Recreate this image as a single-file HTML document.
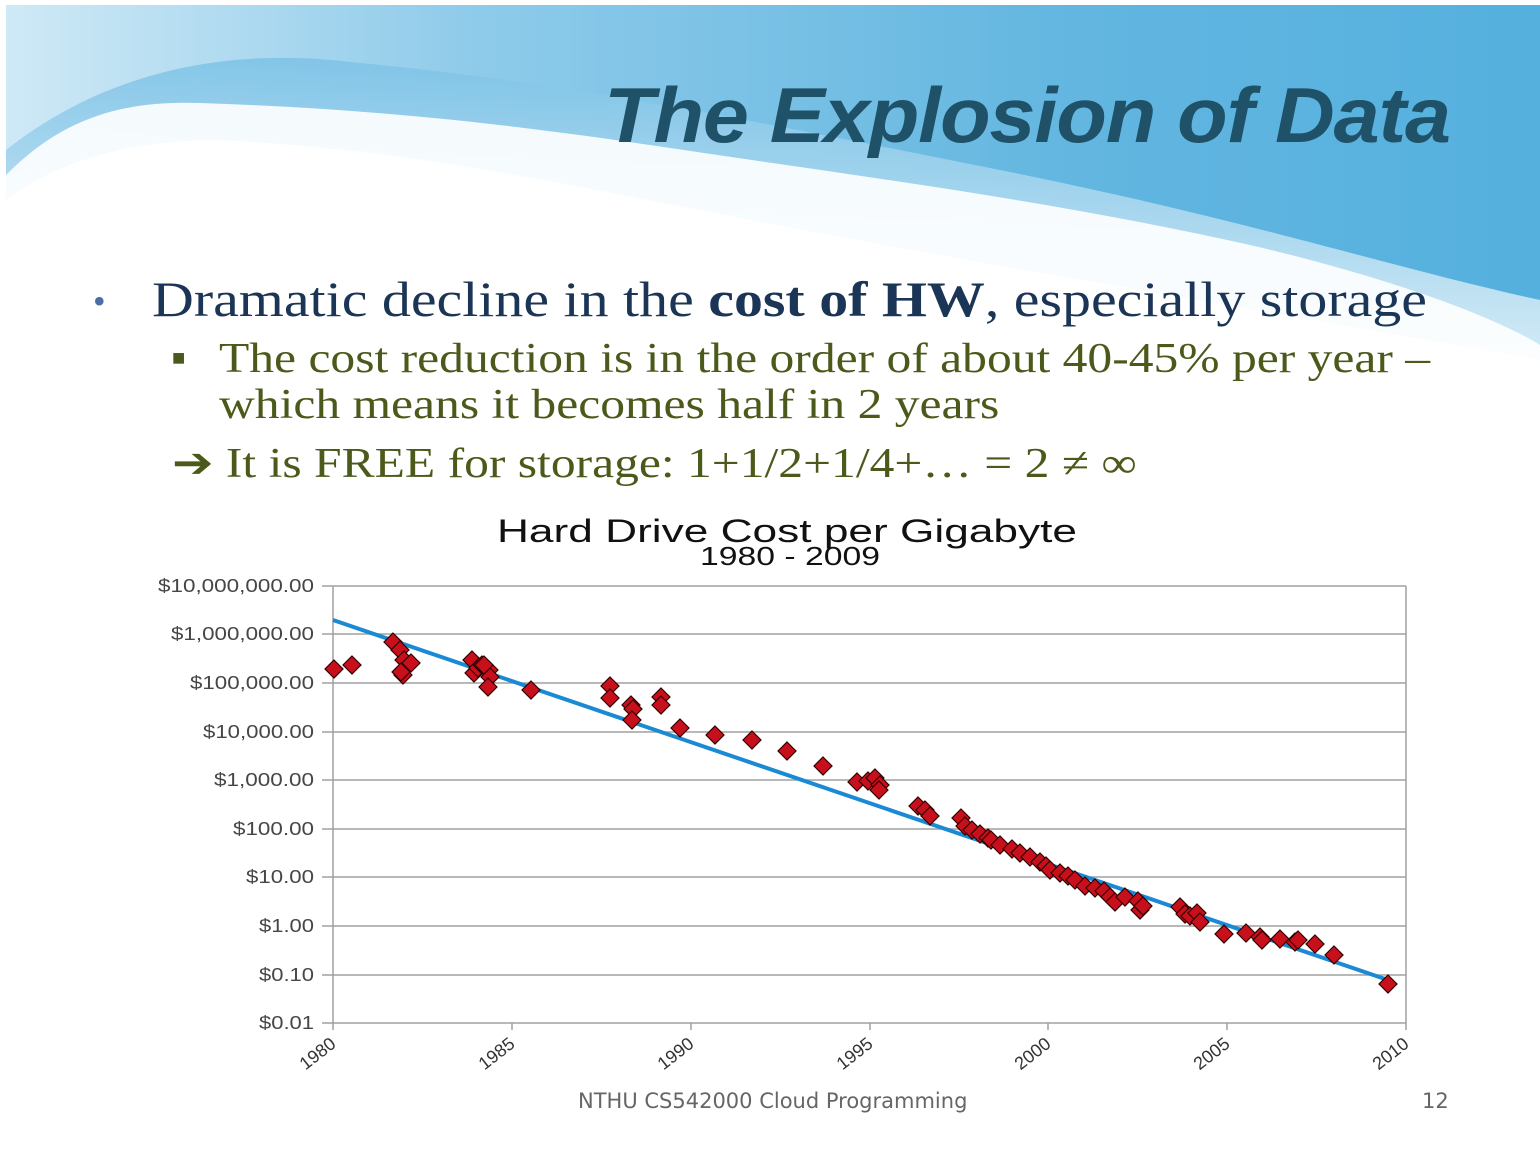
<!DOCTYPE html>
<html><head><meta charset="utf-8"><style>
body{margin:0;width:1540px;height:1155px;background:#fff;position:relative;overflow:hidden;font-family:"Liberation Serif",serif}
.t{position:absolute;white-space:nowrap;transform-origin:0 0}
</style></head><body>
<svg width="1540" height="1155" style="position:absolute;left:0;top:0">
<defs>
<linearGradient id="bg" x1="0" y1="0" x2="1" y2="0">
<stop offset="0" stop-color="#cfe9f6"/><stop offset="0.3" stop-color="#8fcbea"/><stop offset="0.7" stop-color="#62b6e0"/><stop offset="1" stop-color="#55b0de"/></linearGradient>
<linearGradient id="band" x1="0" y1="0" x2="0" y2="1">
<stop offset="0" stop-color="#7cc2e6"/><stop offset="1" stop-color="#ffffff"/></linearGradient>
</defs>
<rect x="6" y="5" width="1534" height="360" fill="url(#bg)"/>
<path d="M6,150 C120,60 250,50 350,62 C550,80 750,120 1000,170 C1250,220 1400,270 1540,300 L1540,420 L6,420Z" fill="url(#band)" opacity="0.85"/>
<path d="M6,175 C60,120 120,100 200,103 C350,108 480,120 650,145 C850,175 1050,200 1250,245 C1400,280 1500,320 1540,345 L1540,420 L6,420Z" fill="#fff" opacity="0.9"/>
<path d="M6,200 C60,160 130,140 220,140 C400,150 520,175 700,210 C900,250 1200,300 1540,360 L1540,420 L6,420Z" fill="#fff"/>
<g stroke="#a0a0a0" stroke-width="1.5">
<line x1="322" y1="586" x2="1406" y2="586"/><line x1="322" y1="634" x2="1406" y2="634"/><line x1="322" y1="683" x2="1406" y2="683"/><line x1="322" y1="732" x2="1406" y2="732"/><line x1="322" y1="780" x2="1406" y2="780"/><line x1="322" y1="829" x2="1406" y2="829"/><line x1="322" y1="877" x2="1406" y2="877"/><line x1="322" y1="926" x2="1406" y2="926"/><line x1="322" y1="975" x2="1406" y2="975"/><line x1="322" y1="1023" x2="1406" y2="1023"/>
<line x1="333" y1="586" x2="333" y2="1030"/><line x1="1406" y1="586" x2="1406" y2="1030"/>
<line x1="512" y1="1023" x2="512" y2="1030"/><line x1="691" y1="1023" x2="691" y2="1030"/><line x1="870" y1="1023" x2="870" y2="1030"/><line x1="1048" y1="1023" x2="1048" y2="1030"/><line x1="1227" y1="1023" x2="1227" y2="1030"/>
</g>
<line x1="333" y1="620" x2="1388" y2="980" stroke="#1a8ad4" stroke-width="4"/>
<g font-family="Liberation Sans,sans-serif" font-size="18" fill="#333" text-anchor="end" opacity="0.9">
<text x="314" y="592" textLength="156" lengthAdjust="spacingAndGlyphs">$10,000,000.00</text><text x="314" y="640" textLength="143" lengthAdjust="spacingAndGlyphs">$1,000,000.00</text><text x="314" y="689" textLength="124" lengthAdjust="spacingAndGlyphs">$100,000.00</text><text x="314" y="738" textLength="111" lengthAdjust="spacingAndGlyphs">$10,000.00</text><text x="314" y="786" textLength="100" lengthAdjust="spacingAndGlyphs">$1,000.00</text><text x="314" y="835" textLength="81" lengthAdjust="spacingAndGlyphs">$100.00</text><text x="314" y="883" textLength="68" lengthAdjust="spacingAndGlyphs">$10.00</text><text x="314" y="932" textLength="55" lengthAdjust="spacingAndGlyphs">$1.00</text><text x="314" y="981" textLength="55" lengthAdjust="spacingAndGlyphs">$0.10</text><text x="314" y="1029" textLength="55" lengthAdjust="spacingAndGlyphs">$0.01</text>
</g>
<g font-family="Liberation Sans,sans-serif" font-size="18" fill="#333" text-anchor="end">
<text transform="translate(337,1046) rotate(-38)">1980</text><text transform="translate(516,1046) rotate(-38)">1985</text><text transform="translate(695,1046) rotate(-38)">1990</text><text transform="translate(874,1046) rotate(-38)">1995</text><text transform="translate(1052,1046) rotate(-38)">2000</text><text transform="translate(1231,1046) rotate(-38)">2005</text><text transform="translate(1410,1046) rotate(-38)">2010</text>
</g>
<g font-family="Liberation Sans,sans-serif" fill="#111">
<text x="497" y="542" font-size="32" textLength="580" lengthAdjust="spacingAndGlyphs">Hard Drive Cost per Gigabyte</text>
<text x="700" y="565" font-size="26" textLength="180" lengthAdjust="spacingAndGlyphs">1980 - 2009</text>
</g>
<g fill="#c8101c" stroke="#300" stroke-width="1.2" id="pts"></g>
</svg>
<div class="t" style="left:604px;top:70px;font:italic bold 78px 'Liberation Sans',sans-serif;color:#1f5168;letter-spacing:-1px;transform:scaleX(1.06)">The Explosion of Data</div>
<div class="t" style="left:93px;top:280px;font-size:36px;color:#4a6fa5">•</div>
<div class="t" style="left:152px;top:270px;font-size:50px;color:#1b3556;transform:scaleX(1.158)">Dramatic decline in the <b>cost of HW</b>, especially storage</div>
<div class="t" style="left:172px;top:345px;font-size:22px;color:#4b5a1a">■</div>
<div class="t" style="left:219px;top:335px;font-size:42px;color:#4b5a1a;transform:scaleX(1.18)">The cost reduction is in the order of about 40-45% per year –</div>
<div class="t" style="left:219px;top:381px;font-size:42px;color:#4b5a1a;transform:scaleX(1.18)">which means it becomes half in 2 years</div>
<div class="t" style="left:172px;top:438px;font-size:42px;color:#4b5a1a;transform:scaleX(1.18)">➔ It is FREE for storage: 1+1/2+1/4+… = 2 ≠ ∞</div>
<div class="t" style="left:578px;top:1089px;font:21px 'DejaVu Sans',sans-serif;color:#666">NTHU CS542000 Cloud Programming</div>
<div class="t" style="left:1422px;top:1089px;font:21px 'DejaVu Sans',sans-serif;color:#666">12</div>
<script>
var p=[[334,669],[352,665],[393,642],[400,650],[404,660],[411,663],[403,675],[401,672],[472,660],[474,673],[478,668],[482,665],[486,668],[489,670],[490,677],[488,687],[484,665],[531,690],[610,686],[610,698],[631,705],[633,709],[632,720],[661,697],[661,705],[680,728],[715,735],[752,740],[787,751],[823,766],[857,782],[868,781],[875,778],[880,785],[879,790],[918,806],[925,810],[930,816],[961,818],[965,826],[972,830],[980,834],[988,838],[991,840],[1000,845],[1012,849],[1020,853],[1030,857],[1040,862],[1046,866],[1050,870],[1060,873],[1068,876],[1075,880],[1085,886],[1095,888],[1104,891],[1110,897],[1115,902],[1125,897],[1138,901],[1140,910],[1143,906],[1180,907],[1185,914],[1190,916],[1197,913],[1200,922],[1224,934],[1246,933],[1260,937],[1262,940],[1280,939],[1295,942],[1298,940],[1315,944],[1334,955],[1388,984]];
var g=document.getElementById('pts'),s='';
p.forEach(function(q){var x=q[0],y=q[1];s+='<path d="M'+x+','+(y-9)+' L'+(x+9)+','+y+' L'+x+','+(y+9)+' L'+(x-9)+','+y+'Z"/>';});
g.innerHTML=s;
</script>
</body></html>
